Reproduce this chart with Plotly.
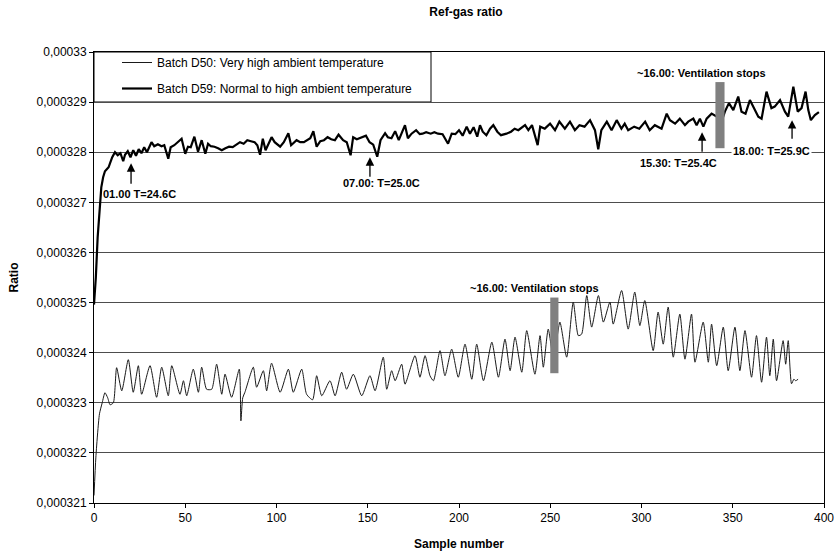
import numpy as np
import plotly.graph_objects as go

# ---- data (ratio values in units of 1e-6) ----
d50_x = [0, 1, 2, 3, 4.5, 6, 7.5, 8.8, 10.6, 12.4, 15.2, 18.8, 21.5, 24.3, 26.1, 30.7, 34.3, 37.1, 40.7, 42.6,
         47.1, 49, 50.8, 54.4, 57.2, 59, 61.7, 64.5, 67.2, 70, 71.8, 75.4, 79.6, 80.5, 81.5, 82.7, 87.3, 89.1,
         92.8, 94.6, 97.3, 102, 106.5, 109.2, 113.8, 116.5, 119.8, 122, 124.8, 129.3, 132.1, 135.7, 138.4,
         142.1, 146.7, 151.2, 154, 158.5, 160.4, 163.1, 165, 168.6, 170.4, 175.9, 178.6, 181.4, 184.1, 186,
         189.6, 192.3, 196, 199.6, 203.3, 207, 209.7, 213.4, 218, 221.6, 225.2, 228, 230.7, 234.4, 237.1,
         241.6, 244.4, 246.2, 248.9, 251.7, 253, 255.3, 259, 262.6, 265.4, 267.2, 270, 272.7, 276.4, 279.1,
         282.7, 284.5, 289.1, 292.7, 296.3, 299.1, 301.8, 306.4, 309.1, 311.9, 314.6, 317.4, 321, 323.8,
         327.4, 329.3, 333.8, 336.6, 338.4, 341.2, 344.8, 347.5, 351.2, 353.9, 356.7, 360.3, 363, 365.8,
         368.5, 370.3, 372.2, 374, 377.6, 379, 380.4, 382.2, 383.5, 384.5, 385.8]
d50_v = [321.15, 321.9, 322.4, 322.78, 323.0, 323.2, 323.1, 322.96, 323.0, 323.7, 323.24, 323.86, 323.21, 323.74,
         323.17, 323.74, 323.11, 323.71, 323.14, 323.74, 323.17, 323.44, 323.14, 323.67, 323.21, 323.71,
         323.27, 323.27, 323.77, 323.17, 323.57, 323.11, 323.67, 322.64, 323.1, 323.21, 323.71, 323.31,
         323.64, 323.24, 323.79, 323.21, 323.67, 323.21, 323.67, 323.17, 323.06, 323.54, 323.14, 323.44,
         323.14, 323.61, 323.27, 323.57, 323.14, 323.54, 323.24, 323.91, 323.27, 323.64, 323.44, 323.77,
         323.37, 323.94, 323.51, 323.94, 323.54, 323.44, 324.04, 323.54, 324.07, 323.51, 324.17, 323.47,
         324.17, 323.44, 324.21, 323.51, 324.27, 323.64, 324.31, 323.61, 324.44, 323.57, 324.34, 323.71,
         324.47, 323.88, 324.11, 324.61, 323.91, 325.01, 324.34, 324.37, 325.14, 324.51, 325.14, 324.61,
         325.01, 324.57, 325.24, 324.47, 325.21, 324.54, 325.04, 324.04, 324.81, 324.17, 324.91, 323.91,
         324.77, 323.87, 324.77, 323.81, 324.61, 323.81, 324.57, 323.74, 324.51, 323.64, 324.51, 323.64,
         324.44, 323.51, 324.34, 323.41, 324.31, 323.54, 324.27, 323.44, 324.24, 323.77, 324.24, 323.38,
         323.47, 323.44, 323.47]

d59_x = [0, 1, 2, 3, 4, 5, 6, 7, 8, 9, 10, 11.5, 13, 14.5, 16, 17, 18.5, 20, 21.5, 23, 24.5, 26, 27.5, 29, 31.5,
         33, 35, 37, 38.5, 40.7, 42, 44, 46, 48, 50, 51.5, 53, 55, 57, 59, 61, 62.5, 64, 66, 68, 70, 72, 74, 76,
         78.5, 80, 82, 84, 86, 88, 89.5, 91, 92.5, 94, 97.3, 99, 102, 104, 106.5, 108, 111, 113, 115, 117,
         118.5, 120.2, 122, 124, 126, 128, 130, 132, 134, 136.5, 138.5, 140.6, 142, 144, 146.5, 149, 151, 153,
         155.2, 157, 159.5, 161, 163, 165, 167, 170.4, 172, 174, 176.5, 178.5, 180, 182, 184.5, 186.5, 188.5,
         191, 194, 196, 198, 200, 202, 204.2, 206, 208, 210, 211.5, 213, 215, 217, 218.8, 221, 223, 226,
         228.5, 230.5, 232.5, 236.2, 238, 240, 243.1, 244.5, 247, 249.9, 252.6, 255, 258, 260.8, 263.5, 266,
         268.8, 271.8, 274.5, 276.3, 278, 281, 283.6, 286.4, 289, 290.8, 292.7, 296, 298.8, 302, 304.5, 307.3,
         311, 313.8, 315.6, 318.4, 321, 323.8, 325.6, 328.4, 330.2, 332, 333.9, 335.7, 338.4, 341.2, 343.5,
         345.7, 347.9, 350.3, 353, 354.8, 357, 359.4, 362.1, 364, 365.8, 368.5, 371.2, 373, 375.9, 378.6,
         380.4, 383.2, 385.6, 387.7, 389.9, 391.4, 392.8, 395, 397.2]
d59_v = [324.96, 325.5, 326.3, 326.9, 327.3, 327.5, 327.62, 327.66, 327.7, 327.8, 327.9, 328.0, 327.94, 327.98,
         327.82, 327.95, 328.02, 327.9, 328.04, 327.93, 328.06, 327.98, 328.1, 328.0, 328.2, 328.12, 328.16,
         328.12, 328.14, 327.87, 328.1, 328.14, 328.2, 328.27, 327.97, 328.11, 328.1, 328.31, 328.01, 328.24,
         327.97, 328.17, 328.12, 328.11, 328.08, 328.04, 328.08, 328.11, 328.1, 328.16, 328.2, 328.17, 328.24,
         328.22, 328.2, 328.14, 327.95, 328.27, 328.04, 328.3, 328.2, 328.11, 328.2, 328.38, 328.14, 328.24,
         328.2, 328.2, 328.25, 328.28, 328.42, 328.11, 328.22, 328.24, 328.3, 328.26, 328.24, 328.35, 328.24,
         328.2, 327.94, 328.3, 328.26, 328.3, 328.33, 328.2, 328.15, 327.91, 328.24, 328.38, 328.3, 328.28,
         328.42, 328.24, 328.54, 328.28, 328.37, 328.44, 328.36, 328.37, 328.4, 328.37, 328.4, 328.37, 328.36,
         328.17, 328.37, 328.36, 328.44, 328.33, 328.51, 328.37, 328.5, 328.31, 328.54, 328.41, 328.34,
         328.47, 328.54, 328.41, 328.34, 328.37, 328.41, 328.47, 328.44, 328.54, 328.44, 328.54, 328.14,
         328.51, 328.47, 328.57, 328.44, 328.61, 328.47, 328.61, 328.44, 328.54, 328.51, 328.64, 328.44,
         328.06, 328.44, 328.61, 328.44, 328.64, 328.47, 328.57, 328.44, 328.51, 328.47, 328.61, 328.44,
         328.54, 328.47, 328.77, 328.64, 328.57, 328.67, 328.54, 328.61, 328.67, 328.54, 328.67, 328.51,
         328.67, 328.77, 328.71, 328.57, 328.81, 328.98, 328.84, 329.11, 328.81, 328.77, 329.04, 328.84,
         328.71, 328.67, 329.21, 328.88, 328.91, 329.04, 328.81, 328.71, 329.31, 328.81, 328.88, 329.21,
         328.84, 328.64, 328.74, 328.8]

y_ticks_e6 = [321, 322, 323, 324, 325, 326, 327, 328, 329, 330]
y_tick_text = ["0,000321", "0,000322", "0,000323", "0,000324", "0,000325",
               "0,000326", "0,000327", "0,000328", "0,000329", "0,00033"]
x_ticks = [0, 50, 100, 150, 200, 250, 300, 350, 400]

E = 1e-6
FONT = "Liberation Sans, Arial, sans-serif"
PLOT_W, PLOT_H = 730, 451

fig = go.Figure()
fig.add_trace(go.Scatter(x=d50_x, y=np.array(d50_v) * E, mode="lines",
                         name="Batch D50: Very high ambient temperature",
                         line=dict(color="#1a1a1a", width=1, shape="spline", smoothing=0.6),
                         legendgroup="a"))
fig.add_trace(go.Scatter(x=d59_x, y=np.array(d59_v) * E, mode="lines",
                         name="Batch D59: Normal to high ambient temperature",
                         line=dict(color="#000000", width=2.2),
                         legendgroup="b"))

# legend frame
fig.add_shape(type="rect", xref="paper", yref="paper",
              x0=0, x1=337 / PLOT_W, y0=1 - 50 / PLOT_H, y1=1,
              line=dict(color="black", width=1), fillcolor="white", layer="below")

# gray "ventilation stops" bars
fig.add_shape(type="rect", x0=340.5, x1=345.5, y0=328.08 * E, y1=329.4 * E,
              fillcolor="#808080", line=dict(width=0), layer="above")
fig.add_shape(type="rect", x0=250, x1=254.5, y0=323.59 * E, y1=325.1 * E,
              fillcolor="#808080", line=dict(width=0), layer="above")

bold = dict(family=FONT, size=11, color="black")
texts = [
    ("01.00 T=24.6C", 25.2, 327.16, None),
    ("07.00: T=25.0C", 157.8, 327.38, None),
    ("15.30: T=25.4C", 320.5, 327.78, None),
    ("18.00: T=25.9C", 371.5, 328.02, "white"),
    ("~16.00: Ventilation stops", 332.6, 329.58, None),
    ("~16.00: Ventilation stops", 241.6, 325.30, None),
]
for t, x, y, bg in texts:
    fig.add_annotation(x=x, y=y * E, text="<b>%s</b>" % t, showarrow=False,
                       font=bold, xanchor="center", yanchor="middle",
                       bgcolor=bg if bg else "rgba(0,0,0,0)", borderpad=1)

arrows = [(20.3, 327.78, 22), (151.2, 327.90, 21), (333.2, 328.40, 21), (382.5, 328.64, 20)]
for x, y, ay in arrows:
    fig.add_annotation(x=x, y=y * E, text="", showarrow=True, ax=0, ay=ay,
                       arrowhead=2, arrowsize=1.3, arrowwidth=1.3, arrowcolor="black")

fig.update_layout(
    width=838, height=553,
    margin=dict(l=94, r=14, t=52, b=50),
    paper_bgcolor="white", plot_bgcolor="white",
    font=dict(family=FONT, size=12, color="black"),
    title=dict(text="<b>Ref-gas ratio</b>", x=466 / 838, xanchor="center",
               y=1 - 12 / 553, yanchor="middle", font=dict(size=12)),
    showlegend=True,
    legend=dict(x=23 / PLOT_W, y=1 + 4 / PLOT_H, xanchor="left", yanchor="top",
                bgcolor="rgba(0,0,0,0)", borderwidth=0,
                font=dict(size=12), tracegroupgap=7, itemwidth=30),
)
fig.update_xaxes(range=[0, 400], tickvals=x_ticks, ticks="outside", ticklen=4,
                 tickcolor="black", showline=True, linecolor="black", linewidth=1,
                 mirror=True, showgrid=False, zeroline=False, automargin=False,
                 title=dict(text="<b>Sample number</b>", standoff=15, font=dict(size=12)))
fig.update_yaxes(range=[321 * E, 330 * E], tickvals=[v * E for v in y_ticks_e6],
                 ticktext=y_tick_text, ticks="outside", ticklen=4, tickcolor="black",
                 showline=True, linecolor="black", linewidth=1, mirror=True,
                 showgrid=True, gridcolor="#4d4d4d", gridwidth=1, zeroline=False,
                 automargin=False,
                 title=dict(text="<b>Ratio</b>", standoff=15, font=dict(size=12)))

fig.write_html("out.html")
